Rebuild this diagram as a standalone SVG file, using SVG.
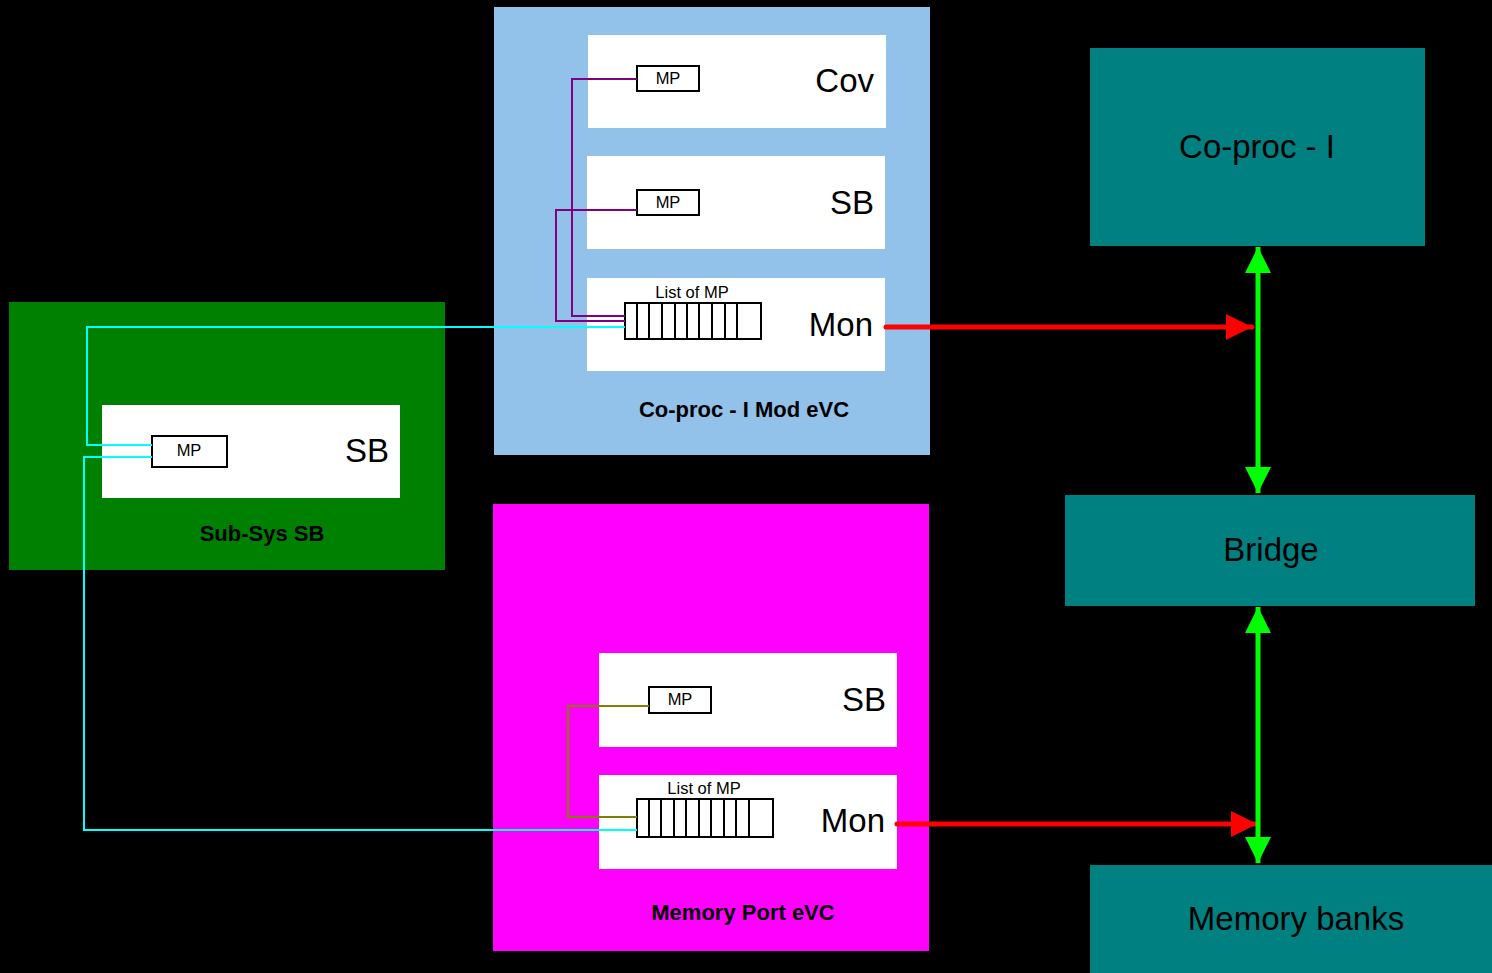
<svg xmlns="http://www.w3.org/2000/svg" width="1492" height="973" viewBox="0 0 1492 973">
  <style>
    text { font-family: "Liberation Sans", Arial, sans-serif; fill: #000; }
    .inner { fill: #fff; stroke: none; }
    .mp { fill: #fff; stroke: #000; stroke-width: 2; }
    .mpt { font-size: 16.5px; text-anchor: middle; }
    .big { font-size: 33px; text-anchor: end; }
    .cap { font-size: 22px; font-weight: bold; text-anchor: middle; }
    .teal { fill: #008080; }
    .tt { font-size: 33px; text-anchor: middle; }
    .cell { fill: none; stroke: #000; stroke-width: 2; }
    .wire { fill: none; stroke-width: 2; }
    .red { stroke: #ff0000; stroke-width: 5; stroke-linecap: round; fill: none; }
    .grn { stroke: #00ff00; stroke-width: 5; fill: none; }
  </style>
  <defs>
    <marker id="redHead" viewBox="0 0 26 26" refX="26" refY="13" markerUnits="userSpaceOnUse" markerWidth="26" markerHeight="26" orient="auto">
      <path d="M0,0 L26,13 L0,26 Z" fill="#ff0000"/>
    </marker>
    <marker id="grnHead" viewBox="0 0 26 26" refX="26" refY="13" markerUnits="userSpaceOnUse" markerWidth="26" markerHeight="26" orient="auto-start-reverse">
      <path d="M0,0 L26,13 L0,26 Z" fill="#00ff00"/>
    </marker>
  </defs>
  <rect width="1492" height="973" fill="#000"/>

  <!-- Co-proc - I Mod eVC -->
  <g id="coproc-evc">
    <rect x="494" y="7" width="436" height="448" fill="#92c1e9"/>
    <text class="cap" x="744" y="417">Co-proc - I Mod eVC</text>
  </g>
  <g id="cov">
    <rect class="inner" x="588" y="35" width="298" height="93"/>
    <text class="big" x="874" y="92">Cov</text>
    <rect class="mp" x="637" y="66" width="62" height="25"/>
    <text class="mpt" x="668" y="84">MP</text>
  </g>
  <g id="sb1">
    <rect class="inner" x="587" y="156" width="298" height="93"/>
    <text class="big" x="874" y="214">SB</text>
    <rect class="mp" x="637" y="190" width="62" height="25"/>
    <text class="mpt" x="668" y="208">MP</text>
  </g>
  <g id="mon1">
    <rect class="inner" x="587" y="278" width="298" height="93"/>
    <text class="big" x="873" y="336">Mon</text>
    <text class="mpt" x="692" y="298">List of MP</text>
    <rect class="cell" x="625" y="303" width="136" height="36"/>
    <path class="cell" d="M637,303V339M649,303V339M662,303V339M675,303V339M687,303V339M699,303V339M712,303V339M725,303V339M737,303V339"/>
  </g>

  <!-- Sub-Sys SB -->
  <g id="subsys">
    <rect x="9" y="302" width="436" height="268" fill="#008000"/>
    <text class="cap" x="262" y="541">Sub-Sys SB</text>
  </g>
  <g id="sb-sub">
    <rect class="inner" x="102" y="405" width="298" height="93"/>
    <text class="big" x="389" y="462">SB</text>
    <rect class="mp" x="152" y="436" width="75" height="31"/>
    <text class="mpt" x="189" y="456">MP</text>
  </g>

  <!-- Memory Port eVC -->
  <g id="memport-evc">
    <rect x="493" y="504" width="436" height="447" fill="#ff00ff"/>
    <text class="cap" x="743" y="920">Memory Port eVC</text>
  </g>
  <g id="sb2">
    <rect class="inner" x="599" y="653" width="298" height="94"/>
    <text class="big" x="886" y="711">SB</text>
    <rect class="mp" x="649" y="687" width="62" height="26"/>
    <text class="mpt" x="680" y="705">MP</text>
  </g>
  <g id="mon2">
    <rect class="inner" x="599" y="775" width="298" height="94"/>
    <text class="big" x="885" y="832">Mon</text>
    <text class="mpt" x="704" y="794">List of MP</text>
    <rect class="cell" x="637" y="799" width="136" height="38"/>
    <path class="cell" d="M649,799V837M661,799V837M674,799V837M686,799V837M699,799V837M711,799V837M724,799V837M736,799V837M749,799V837"/>
  </g>

  <!-- Right-hand blocks -->
  <g id="coproc">
    <rect class="teal" x="1090" y="48" width="335" height="198"/>
    <text class="tt" x="1257" y="158">Co-proc - I</text>
  </g>
  <g id="bridge">
    <rect class="teal" x="1065" y="495" width="410" height="111"/>
    <text class="tt" x="1271" y="561">Bridge</text>
  </g>
  <g id="membanks">
    <rect class="teal" x="1090" y="865" width="402" height="108"/>
    <text class="tt" x="1296" y="930">Memory banks</text>
  </g>

  <!-- Connectors -->
  <g id="connectors">
    <path class="wire" stroke="#800080" d="M637,79H572V316H625"/>
    <path class="wire" stroke="#800080" d="M637,210H556V321H625"/>
    <path class="wire" stroke="#00ffff" d="M625,327H87V445H152"/>
    <path class="wire" stroke="#00ffff" d="M152,457H84V830H637"/>
    <path class="wire" stroke="#808000" d="M649,706H568V817H637"/>
    <path class="red" d="M886,327H1252" marker-end="url(#redHead)"/>
    <path class="red" d="M897,824H1257" marker-end="url(#redHead)"/>
    <path class="grn" d="M1258,247V493" marker-start="url(#grnHead)" marker-end="url(#grnHead)"/>
    <path class="grn" d="M1258,607V863" marker-start="url(#grnHead)" marker-end="url(#grnHead)"/>
  </g>
</svg>
